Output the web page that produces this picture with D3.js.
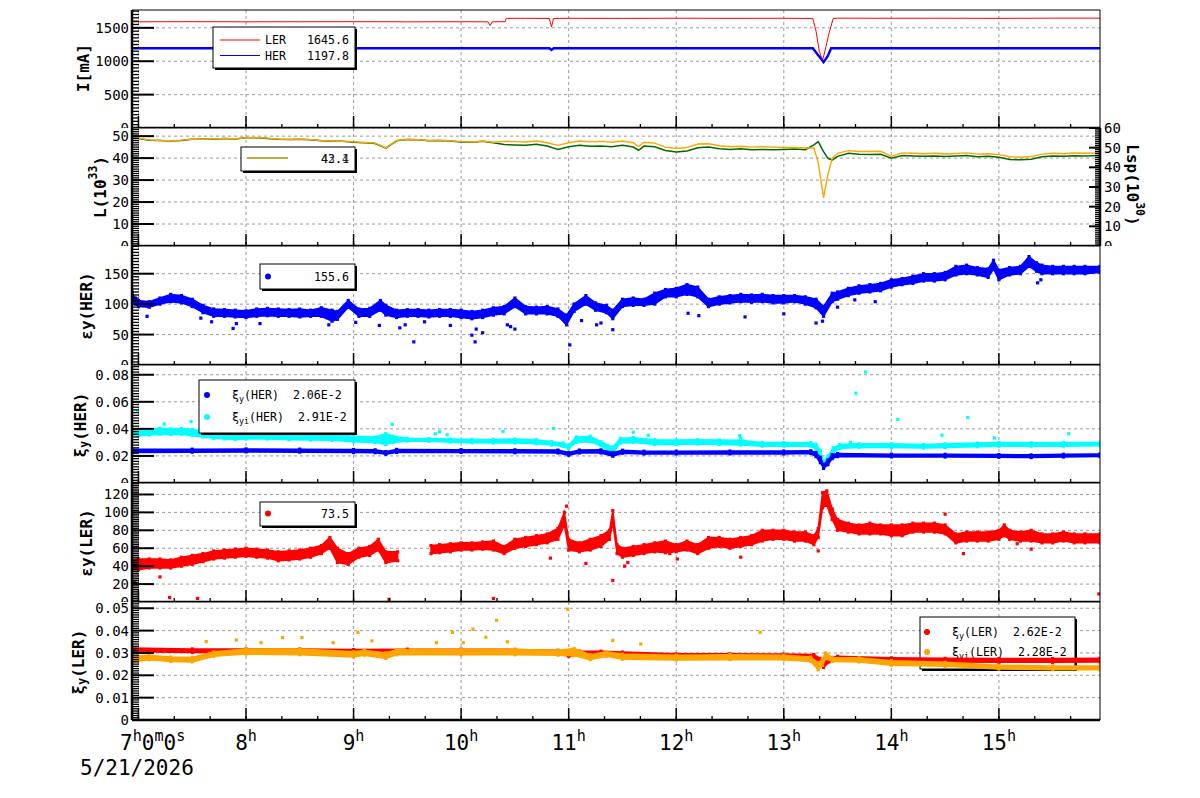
<!DOCTYPE html>
<html>
<head>
<meta charset="utf-8">
<script src="https://cdn.jsdelivr.net/npm/d3@7"></script>
<style>
  body { margin: 0; background: #fff; }
  text { font-family: "DejaVu Sans Mono", monospace; fill: #000; white-space: pre; }
</style>
</head>
<body>
<svg id="chart" width="1200" height="798"></svg>
<script>
// ---------------------------------------------------------------------------
// Data (time in hours of the day, 5/21/2026)
// ---------------------------------------------------------------------------

// Panel 1: beam currents [t, mA]
const currentLER = [
  [6.94,1590],[7.5,1592],[8.0,1590],[8.5,1591],[9.0,1592],[9.5,1590],[10.0,1591],
  [10.25,1590],[10.27,1535],[10.29,1590],[10.41,1592],[10.42,1642],[10.6,1643],
  [10.82,1640],[10.84,1515],[10.86,1640],[11.0,1643],[11.5,1641],[12.0,1644],
  [12.5,1642],[13.0,1643],[13.27,1640],[13.3,1450],[13.33,1150],[13.36,1010],
  [13.39,1200],[13.42,1420],[13.46,1640],[13.5,1645],[14.0,1643],[14.5,1644],
  [15.0,1642],[15.5,1645],[15.94,1645]
];
const currentHER = [
  [6.94,1195],[8.0,1195],[9.0,1195],[10.0,1195],[10.82,1195],[10.84,1170],[10.86,1195],
  [11.5,1195],[12.5,1195],[13.27,1195],[13.32,1090],[13.37,985],[13.41,1080],
  [13.44,1195],[14.0,1195],[15.0,1195],[15.94,1195]
];
const legendCurrent = [["LER", "1645.6", "#ff0000"], ["HER", "1197.8", "#0000ff"]];

// Panel 2: luminosity [t, L (left axis, 1e33), Lsp (right axis, 1e30)]
const lumRows = [
  [6.94,49.3,54.7],[7.0,49.0,54.7],[7.1,48.3,53.8],[7.2,48.0,53.6],[7.3,47.9,53.4],
  [7.4,48.2,53.6],[7.5,48.7,54.3],[7.6,48.6,54.4],[7.7,48.7,54.3],[7.8,49.0,54.6],
  [7.9,48.8,54.4],[8.0,49.3,55.0],[8.1,49.4,55.1],[8.2,49.1,54.7],[8.3,48.7,54.3],
  [8.4,48.5,54.1],[8.5,48.7,54.3],[8.6,48.4,54.0],[8.7,48.0,53.5],[8.8,47.8,53.3],
  [8.9,47.7,53.2],[9.0,47.4,52.8],[9.1,47.1,52.5],[9.2,46.8,52.1],[9.3,44.6,49.8],
  [9.4,48.0,53.5],[9.5,48.6,54.2],[9.6,48.4,54.0],[9.7,48.0,53.5],[9.8,48.2,53.7],
  [9.9,47.9,53.4],[10.0,47.5,52.9],[10.1,47.3,52.7],[10.2,47.8,53.2],[10.3,47.2,52.5],
  [10.4,47.6,51.6],[10.5,47.5,51.4],[10.6,47.3,51.2],[10.7,47.8,51.7],[10.8,47.0,50.8],
  [10.9,45.8,49.1],[11.0,47.0,50.5],[11.1,47.8,51.2],[11.2,47.4,50.7],[11.3,47.6,50.9],
  [11.4,47.2,50.5],[11.5,47.8,51.2],[11.6,47.0,50.3],[11.65,45.2,48.7],[11.7,47.2,50.8],
  [11.8,46.8,50.5],[11.9,45.0,48.6],[12.0,44.4,47.8],[12.1,44.8,48.3],[12.2,46.4,50.0],
  [12.3,46.5,50.3],[12.4,45.6,49.5],[12.5,45.2,49.1],[12.6,45.4,49.4],[12.7,45.0,48.9],
  [12.8,45.2,49.1],[12.9,45.0,49.0],[13.0,44.8,49.1],[13.1,44.9,49.3],[13.2,44.6,49.0],
  [13.28,44.6,51.4],[13.32,38.0,53.1],[13.37,21.9,48.0],[13.41,32.5,44.6],[13.45,39.9,43.7],
  [13.5,42.2,45.6],[13.6,43.4,47.1],[13.7,43.0,46.7],[13.8,43.0,46.5],[13.9,43.1,46.6],
  [14.0,40.8,44.6],[14.1,42.4,46.0],[14.2,42.2,45.8],[14.3,42.0,45.6],[14.4,42.2,45.8],
  [14.5,41.9,45.5],[14.6,42.1,45.7],[14.7,42.4,46.0],[14.8,41.8,45.4],[14.9,42.0,45.6],
  [15.0,41.6,45.1],[15.1,40.6,44.0],[15.2,40.4,43.8],[15.3,40.7,44.1],[15.4,41.8,45.4],
  [15.5,42.2,45.8],[15.6,42.0,45.6],[15.7,42.3,45.9],[15.8,42.2,45.8],[15.94,42.4,46.0]
];
const legendLum = ["43.4", "42.1"];

// Panel 3: vertical emittance HER, scatter band [t, low, high] + stray points [t, v]
const epsHER = [
  [6.94,108,120],[6.97,100,110],[7.0,96,106],[7.1,95,104],[7.2,100,110],[7.3,104,116],
  [7.4,102,114],[7.5,96,108],[7.6,86,98],[7.7,80,92],[7.8,80,91],[7.9,79,90],[8.0,78,89],
  [8.1,80,92],[8.2,81,93],[8.3,80,92],[8.4,80,91],[8.5,79,92],[8.6,80,90],[8.7,80,94],
  [8.8,72,90],[8.85,75,88],[8.95,95,106],[9.05,80,92],[9.15,80,93],[9.25,90,106],
  [9.3,82,98],[9.4,78,90],[9.5,80,91],[9.6,80,91],[9.7,79,90],[9.8,80,91],[9.9,80,91],
  [10.0,78,90],[10.1,76,88],[10.2,78,90],[10.3,82,94],[10.4,84,96],[10.5,96,110],
  [10.6,84,96],[10.7,84,95],[10.8,84,96],[10.9,80,92],[10.98,66,82],[11.05,88,100],
  [11.16,100,114],[11.25,90,102],[11.35,86,98],[11.41,76,90],[11.5,96,108],[11.6,98,110],
  [11.7,98,108],[11.8,100,118],[11.9,112,124],[12.0,112,126],[12.1,116,132],[12.2,112,128],
  [12.3,96,108],[12.4,100,112],[12.5,102,114],[12.6,104,116],[12.7,103,115],[12.8,104,116],
  [12.9,102,114],[13.0,102,114],[13.1,104,114],[13.2,100,112],[13.3,94,108],[13.37,80,96],
  [13.45,104,118],[13.5,108,120],[13.6,114,126],[13.7,118,130],[13.8,120,132],[13.9,122,134],
  [14.0,128,140],[14.1,132,142],[14.2,134,146],[14.3,138,150],[14.4,138,150],[14.5,140,152],
  [14.6,148,162],[14.7,150,164],[14.8,148,160],[14.9,144,158],[14.95,158,172],[15.0,140,156],
  [15.1,148,160],[15.2,150,162],[15.28,162,178],[15.35,154,168],[15.4,150,164],[15.5,150,162],
  [15.6,150,162],[15.7,150,162],[15.8,150,162],[15.94,152,162]
];
const epsHEROut = [
  [7.08,80],[7.58,77],[7.68,71],[7.88,60],[7.91,68],[8.13,68],[8.77,66],[9.02,70],[9.24,65],
  [9.43,61],[9.48,66],[9.56,38],[9.66,71],[9.9,65],[10.1,49],[10.13,38],[10.14,59],[10.2,53],
  [10.43,66],[10.46,63],[10.5,59],[11.01,33],[11.12,73],[11.26,66],[11.3,69],[11.41,58],
  [12.11,85],[12.21,81],[12.64,79],[13.0,84],[13.3,69],[13.36,72],[13.5,95],[13.66,107],
  [13.85,104],[15.36,135],[15.39,140]
];
const legendEpsHER = "155.6";

// Panel 4: beam-beam parameter HER [t, low, high]
const xiHER = [
  [6.94,0.0225,0.0250],[7.5,0.0228,0.0250],[8.0,0.0230,0.0252],[8.5,0.0228,0.0250],
  [9.0,0.0225,0.0247],[9.2,0.0224,0.0245],[9.3,0.0212,0.0232],[9.4,0.0226,0.0248],
  [10.0,0.0226,0.0246],[10.5,0.0224,0.0245],[10.9,0.0222,0.0243],[11.0,0.0205,0.0225],
  [11.1,0.0222,0.0243],[11.3,0.0222,0.0245],[11.41,0.0198,0.0225],[11.5,0.0220,0.0242],
  [11.7,0.0215,0.0235],[12.0,0.0215,0.0235],[12.5,0.0215,0.0236],[13.0,0.0215,0.0236],
  [13.25,0.0218,0.0238],[13.3,0.0195,0.0225],[13.34,0.0150,0.0190],[13.37,0.0108,0.0135],
  [13.41,0.0135,0.0170],[13.45,0.0180,0.0210],[13.5,0.0195,0.0218],[14.0,0.0193,0.0213],
  [14.5,0.0192,0.0212],[15.0,0.0190,0.0210],[15.3,0.0188,0.0208],[15.6,0.0192,0.0212],
  [15.94,0.0195,0.0215]
];
const xiiHER = [
  [6.94,0.0355,0.0405],[7.0,0.0350,0.0395],[7.1,0.0355,0.0395],[7.2,0.0360,0.0405],
  [7.3,0.0358,0.0400],[7.4,0.0360,0.0402],[7.5,0.0350,0.0395],[7.6,0.0340,0.0385],
  [7.7,0.0330,0.0372],[7.8,0.0325,0.0368],[7.9,0.0322,0.0365],[8.0,0.0325,0.0368],
  [8.2,0.0325,0.0365],[8.4,0.0320,0.0362],[8.6,0.0318,0.0360],[8.8,0.0315,0.0358],
  [9.0,0.0305,0.0345],[9.2,0.0300,0.0340],[9.3,0.0285,0.0365],[9.37,0.0300,0.0345],
  [9.5,0.0310,0.0330],[9.7,0.0308,0.0328],[9.9,0.0302,0.0325],[10.1,0.0298,0.0322],
  [10.3,0.0295,0.0322],[10.5,0.0295,0.0325],[10.7,0.0290,0.0320],[10.84,0.0280,0.0305],
  [10.95,0.0270,0.0295],[11.0,0.0255,0.0280],[11.07,0.0300,0.0340],[11.2,0.0305,0.0345],
  [11.3,0.0275,0.0305],[11.41,0.0220,0.0265],[11.48,0.0295,0.0330],[11.6,0.0300,0.0335],
  [11.8,0.0285,0.0320],[12.0,0.0285,0.0318],[12.2,0.0288,0.0320],[12.4,0.0285,0.0318],
  [12.6,0.0280,0.0315],[12.8,0.0272,0.0300],[13.0,0.0272,0.0300],[13.25,0.0272,0.0298],
  [13.3,0.0250,0.0285],[13.34,0.0190,0.0240],[13.37,0.0130,0.0160],[13.41,0.0160,0.0200],
  [13.46,0.0225,0.0260],[13.52,0.0255,0.0285],[13.7,0.0262,0.0290],[14.0,0.0262,0.0290],
  [14.3,0.0258,0.0285],[14.5,0.0262,0.0290],[14.8,0.0268,0.0295],[15.0,0.0272,0.0300],
  [15.3,0.0272,0.0298],[15.6,0.0272,0.0300],[15.94,0.0275,0.0300]
];
const xiiHEROut = [
  [6.99,0.0529],[7.24,0.0437],[7.49,0.0454],[8.43,0.0436],[8.52,0.0398],[8.76,0.0398],
  [8.99,0.0400],[9.36,0.0433],[9.76,0.0363],[9.80,0.0378],[9.87,0.0356],[10.39,0.0380],
  [10.86,0.0403],[11.60,0.0375],[11.74,0.0353],[12.59,0.0350],[12.60,0.0333],[13.62,0.0301],
  [13.67,0.0664],[13.76,0.0820],[14.06,0.0470],[14.47,0.0353],[14.71,0.0484],[14.96,0.0333],
  [15.65,0.0364]
];
const legendXiHER = [["ξ", "y", "(HER)  2.06E-2", "#0000ff"], ["ξ", "yi", "(HER)  2.91E-2", "#00ffff"]];

// Panel 5: vertical emittance LER [t, low, high] (null = no data)
const epsLER = [
  [6.94,36,46],[7.0,36,48],[7.1,38,48],[7.2,38,48],[7.3,38,47],[7.4,40,50],[7.5,42,52],
  [7.6,45,54],[7.7,48,57],[7.8,49,58],[7.9,50,59],[8.0,51,60],[8.1,50,59],[8.2,49,58],
  [8.3,46,56],[8.4,47,57],[8.5,48,58],[8.6,50,60],[8.7,54,63],[8.78,60,72],[8.85,44,60],
  [8.95,42,54],[9.05,50,60],[9.15,52,62],[9.23,58,70],[9.3,44,56],[9.41,46,56],
  [9.55,null,null],
  [9.72,54,63],[9.8,55,64],[9.9,56,65],[10.0,58,66],[10.1,58,66],[10.2,59,67],[10.3,58,68],
  [10.4,54,62],[10.5,60,70],[10.6,62,72],[10.7,64,74],[10.8,66,76],[10.9,70,82],
  [10.96,86,100],[11.0,58,70],[11.1,56,66],[11.2,58,70],[11.3,62,74],[11.38,70,80],
  [11.41,88,102],[11.45,54,64],[11.5,50,60],[11.6,52,62],[11.7,54,64],[11.8,56,66],
  [11.9,55,68],[12.0,56,64],[12.1,58,68],[12.2,54,64],[12.3,60,72],[12.4,62,72],[12.5,60,70],
  [12.6,62,72],[12.7,64,74],[12.8,68,80],[12.9,70,80],[13.0,70,80],[13.1,68,78],[13.2,68,78],
  [13.28,64,74],[13.32,72,82],[13.36,105,122],[13.4,108,124],[13.45,92,104],[13.5,80,92],
  [13.6,78,88],[13.7,76,86],[13.8,76,88],[13.9,76,86],[14.0,74,86],[14.1,74,86],[14.2,78,88],
  [14.3,78,88],[14.4,78,88],[14.5,76,86],[14.6,66,76],[14.7,68,78],[14.8,68,78],[14.9,68,78],
  [15.0,70,80],[15.05,74,86],[15.1,70,80],[15.2,68,78],[15.3,68,80],[15.4,66,76],[15.5,66,76],
  [15.6,68,78],[15.7,66,76],[15.8,66,76],[15.94,66,76]
];
const epsLEROut = [
  [6.96,22],[7.2,28],[7.29,5],[7.55,4],[9.33,3],[10.3,4],[10.83,49],[10.98,107],[11.16,43],
  [11.41,24],[11.52,40],[11.55,44],[11.94,54],[12.01,48],[12.6,50],[13.32,57],[14.5,98],
  [14.67,54],[15.17,65],[15.3,59],[15.93,9]
];
const legendEpsLER = "73.5";

// Panel 6: beam-beam parameter LER [t, low, high]
const xiLER = [
  [6.94,0.0305,0.0322],[7.5,0.0302,0.0318],[8.0,0.0302,0.0318],[8.5,0.0302,0.0318],
  [9.0,0.0300,0.0315],[9.5,0.0302,0.0317],[10.0,0.0302,0.0317],[10.5,0.0300,0.0316],
  [10.9,0.0298,0.0312],[11.0,0.0285,0.0305],[11.1,0.0290,0.0308],[11.3,0.0292,0.0308],
  [11.5,0.0288,0.0304],[12.0,0.0280,0.0296],[12.5,0.0280,0.0296],[13.0,0.0280,0.0295],
  [13.28,0.0278,0.0293],[13.34,0.0255,0.0275],[13.37,0.0235,0.0265],[13.42,0.0260,0.0278],
  [13.5,0.0270,0.0285],[14.0,0.0262,0.0278],[14.5,0.0260,0.0276],[15.0,0.0258,0.0275],
  [15.5,0.0258,0.0275],[15.94,0.0260,0.0276]
];
const xiiLER = [
  [6.94,0.0260,0.0285],[7.1,0.0270,0.0290],[7.3,0.0262,0.0282],[7.5,0.0260,0.0280],
  [7.7,0.0285,0.0305],[8.0,0.0295,0.0318],[8.5,0.0292,0.0318],[9.0,0.0282,0.0305],
  [9.1,0.0290,0.0312],[9.3,0.0275,0.0300],[9.4,0.0292,0.0315],[10.0,0.0292,0.0315],
  [10.5,0.0292,0.0315],[10.9,0.0290,0.0312],[11.05,0.0288,0.0320],[11.2,0.0270,0.0292],
  [11.35,0.0285,0.0305],[11.5,0.0272,0.0295],[12.0,0.0268,0.0290],[12.5,0.0270,0.0292],
  [13.0,0.0270,0.0290],[13.25,0.0262,0.0282],[13.32,0.0225,0.0255],[13.36,0.0245,0.0275],
  [13.39,0.0275,0.0300],[13.45,0.0262,0.0280],[13.7,0.0260,0.0278],[14.0,0.0245,0.0265],
  [14.5,0.0240,0.0258],[15.0,0.0228,0.0245],[15.5,0.0225,0.0242],[15.94,0.0225,0.0242]
];
const xiiLEROut = [
  [7.63,0.0351],[7.91,0.0358],[8.14,0.0346],[8.34,0.0369],[8.52,0.0369],[8.81,0.0346],
  [9.04,0.0392],[9.17,0.0354],[9.77,0.0346],[9.92,0.0392],[10.02,0.0346],[10.11,0.0407],
  [10.23,0.0370],[10.33,0.0446],[10.43,0.0350],[10.99,0.0496],[11.41,0.0356],[11.67,0.0340],
  [12.78,0.0392]
];
const legendXiLER = [["ξ", "y", "(LER)  2.62E-2", "#ff0000"], ["ξ", "yi", "(LER)  2.28E-2", "#ffa500"]];

// Axis setup
const HOURS = d3.range(7, 16);
const TIME_DOMAIN = [6.94, 15.94];
const PANELS = [
  { top: 10,  bottom: 128, domain: [0, 1767],   ticks: [0, 500, 1000, 1500],            sub: 50 },
  { top: 128, bottom: 246, domain: [0, 53.7],   ticks: [0, 10, 20, 30, 40, 50],         sub: 1 },
  { top: 246, bottom: 365, domain: [0, 195.5],  ticks: [0, 50, 100, 150],               sub: 5 },
  { top: 365, bottom: 483, domain: [0, 0.0872], ticks: [0, 0.02, 0.04, 0.06, 0.08],     sub: 0.002 },
  { top: 483, bottom: 602, domain: [0, 132.8],  ticks: [0, 20, 40, 60, 80, 100, 120],   sub: 2 },
  { top: 602, bottom: 720, domain: [0, 0.0528], ticks: [0, 0.01, 0.02, 0.03, 0.04, 0.05], sub: 0.001 },
];

// ---------------------------------------------------------------------------
const svg = d3.select("#chart");
const X0 = 132, X1 = 1100;
const x = d3.scaleLinear().domain(TIME_DOMAIN).range([X0, X1]);
const GRID = "#9a9a9a";

function rich(sel, parts, size) {
  let shift = 0;
  for (const [s, kind] of parts) {
    const target = kind === "sup" ? -0.42 * size : kind === "sub" ? 0.28 * size : 0;
    sel.append("tspan").attr("dy", target - shift)
      .attr("font-size", kind ? size * 0.72 : size).text(s);
    shift = target;
  }
}

function legendBox(g, x0, y0, x1, y1) {
  g.append("rect").attr("x", x0 + 2).attr("y", y0 + 2)
    .attr("width", x1 - x0).attr("height", y1 - y0).attr("fill", "#000");
  g.append("rect").attr("x", x0).attr("y", y0)
    .attr("width", x1 - x0).attr("height", y1 - y0)
    .attr("fill", "#fff").attr("stroke", "#000").attr("stroke-width", 1);
}

function drawPoints(g, pts, y, color) {
  g.append("g").selectAll("rect").data(pts).join("rect")
    .attr("x", (d) => x(d[0]) - 1.6).attr("y", (d) => y(d[1]) - 1.6)
    .attr("width", 3.2).attr("height", 3.2).attr("fill", color);
}

// dense scatter cloud drawn as a filled band between the low/high edges
function drawBand(g, rows, y, color) {
  const area = d3.area()
    .defined((d) => d[1] != null)
    .x((d) => x(d[0])).y0((d) => y(d[1])).y1((d) => y(d[2]));
  g.append("path").datum(rows).attr("d", area).attr("fill", color)
    .attr("stroke", color).attr("stroke-width", 1.5);
  const pts = rows.filter((d) => d[1] != null).flatMap((d) => [[d[0], d[1]], [d[0], d[2]]]);
  drawPoints(g, pts, y, color);
}

function drawLine(g, rows, y, col, color, width) {
  const line = d3.line().x((d) => x(d[0])).y((d) => y(d[col]));
  g.append("path").datum(rows).attr("d", line).attr("fill", "none")
    .attr("stroke", color).attr("stroke-width", width);
}

function yTitle(cx, cy, parts, rot) {
  const t = svg.append("text")
    .attr("transform", `translate(${cx},${cy}) rotate(${rot || -90})`)
    .attr("text-anchor", "middle").attr("dominant-baseline", "central")
    .attr("font-weight", "bold").attr("font-size", 16);
  rich(t, parts, 16);
}

function panel(i, draw) {
  const p = PANELS[i];
  const g = svg.append("g");
  g.append("rect").attr("x", 0).attr("y", p.top).attr("width", 1200)
    .attr("height", (i === PANELS.length - 1 ? 798 : p.bottom) - p.top).attr("fill", "#fff");
  const y = d3.scaleLinear().domain(p.domain).range([p.bottom, p.top]);

  // grid
  g.append("g").selectAll("line").data(HOURS).join("line")
    .attr("x1", (d) => x(d)).attr("x2", (d) => x(d))
    .attr("y1", p.top).attr("y2", p.bottom)
    .attr("stroke", GRID).attr("stroke-dasharray", "3,3");
  g.append("g").selectAll("line").data(p.ticks.filter((v) => v > 0)).join("line")
    .attr("x1", X0).attr("x2", X1).attr("y1", (d) => y(d)).attr("y2", (d) => y(d))
    .attr("stroke", GRID).attr("stroke-dasharray", "3,3");

  g.append("clipPath").attr("id", `clip${i}`).append("rect")
    .attr("x", X0).attr("y", p.top).attr("width", X1 - X0).attr("height", p.bottom - p.top);
  const plot = g.append("g").attr("clip-path", `url(#clip${i})`);
  draw(plot, y, g);

  // frame
  g.append("line").attr("x1", X0).attr("x2", X1).attr("y1", p.top).attr("y2", p.top)
    .attr("stroke", "#000").attr("stroke-width", 1);
  g.append("line").attr("x1", X1).attr("x2", X1).attr("y1", p.top).attr("y2", p.bottom)
    .attr("stroke", "#000").attr("stroke-width", 1);

  // bottom (time) axis
  const minorH = d3.range(7, TIME_DOMAIN[1], 1 / 3);
  g.append("g").selectAll("line").data(minorH).join("line")
    .attr("x1", (d) => x(d)).attr("x2", (d) => x(d))
    .attr("y1", p.bottom).attr("y2", p.bottom - 4).attr("stroke", "#000").attr("stroke-width", 1.3);
  g.append("g").selectAll("line").data(HOURS).join("line")
    .attr("x1", (d) => x(d)).attr("x2", (d) => x(d))
    .attr("y1", p.bottom).attr("y2", p.bottom - 12).attr("stroke", "#000").attr("stroke-width", 1.5);
  g.append("line").attr("x1", X0).attr("x2", X1).attr("y1", p.bottom).attr("y2", p.bottom)
    .attr("stroke", "#000").attr("stroke-width", 2.5);

  // left axis
  const minorY = d3.range(0, p.domain[1], p.sub);
  g.append("g").selectAll("line").data(minorY).join("line")
    .attr("x1", X0).attr("x2", X0 + 7).attr("y1", (d) => y(d)).attr("y2", (d) => y(d))
    .attr("stroke", "#000").attr("stroke-width", 1.3);
  g.append("g").selectAll("line").data(p.ticks).join("line")
    .attr("x1", X0).attr("x2", X0 + 22).attr("y1", (d) => y(d)).attr("y2", (d) => y(d))
    .attr("stroke", "#000").attr("stroke-width", 2);
  g.append("line").attr("x1", X0).attr("x2", X0).attr("y1", p.top).attr("y2", p.bottom)
    .attr("stroke", "#000").attr("stroke-width", 2.5);
  g.append("g").selectAll("text").data(p.ticks).join("text")
    .attr("x", X0 - 3).attr("y", (d) => y(d)).attr("text-anchor", "end")
    .attr("dominant-baseline", "central").attr("font-size", 14)
    .text((d) => (d === 0 ? "0" : p.domain[1] < 1 ? d.toFixed(2) : d));
}

// ---- Panel 1: currents ----
panel(0, (plot, y, g) => {
  drawLine(plot, currentLER, y, 1, "#ff0000", 1);
  drawLine(plot, currentHER, y, 1, "#0000ff", 2.4);
  legendBox(g, 213, 27, 355, 68);
  legendCurrent.forEach(([name, val, color], k) => {
    const yy = 40 + k * 15.5;
    g.append("line").attr("x1", 220).attr("x2", 260).attr("y1", yy).attr("y2", yy)
      .attr("stroke", color).attr("stroke-width", 1);
    g.append("text").attr("x", 265).attr("y", yy + 4).attr("font-size", 11.6).text(name);
    g.append("text").attr("x", 349).attr("y", yy + 4).attr("font-size", 11.6)
      .attr("text-anchor", "end").text(val);
  });
});
yTitle(83, 68, [["I[mA]"]]);

// ---- Panel 2: luminosity ----
panel(1, (plot, y, g) => {
  const yR = d3.scaleLinear().domain([0, 60]).range([PANELS[1].bottom, PANELS[1].top]);
  const lineSp = d3.line().x((d) => x(d[0])).y((d) => yR(d[2]));
  plot.append("path").datum(lumRows).attr("d", lineSp).attr("fill", "none")
    .attr("stroke", "#006a00").attr("stroke-width", 1.5);
  drawLine(plot, lumRows, y, 1, "#ffa500", 1.4);
  legendBox(g, 241, 147, 355, 171);
  g.append("line").attr("x1", 247).attr("x2", 288).attr("y1", 158).attr("y2", 158)
    .attr("stroke", "#006a00");
  g.append("line").attr("x1", 247).attr("x2", 288).attr("y1", 158).attr("y2", 158)
    .attr("stroke", "#ffa500");
  legendLum.forEach((v) => {
    g.append("text").attr("x", 349).attr("y", 162.5).attr("font-size", 11.6)
      .attr("text-anchor", "end").attr("fill-opacity", 0.8).text(v);
  });
  // right axis (Lsp)
  const rMinor = d3.range(0, 60, 1);
  const rMajor = d3.range(0, 61, 10);
  g.append("g").selectAll("line").data(rMinor).join("line")
    .attr("x1", X1).attr("x2", X1 - 5).attr("y1", (d) => yR(d)).attr("y2", (d) => yR(d))
    .attr("stroke", "#000").attr("stroke-width", 1.3);
  g.append("g").selectAll("line").data(rMajor).join("line")
    .attr("x1", X1).attr("x2", X1 - 11).attr("y1", (d) => yR(d)).attr("y2", (d) => yR(d))
    .attr("stroke", "#000").attr("stroke-width", 2);
  g.append("line").attr("x1", X1).attr("x2", X1).attr("y1", PANELS[1].top).attr("y2", PANELS[1].bottom)
    .attr("stroke", "#000").attr("stroke-width", 2.5);
  g.append("g").selectAll("text").data(rMajor).join("text")
    .attr("x", X1 + 4).attr("y", (d) => yR(d)).attr("dominant-baseline", "central")
    .attr("font-size", 14).text((d) => d);
});
yTitle(100, 187, [["L(10"], ["33", "sup"], [")"]]);
yTitle(1133, 185, [["Lsp(10"], ["30", "sup"], [")"]], 90);

// ---- Panel 3: emittance HER ----
panel(2, (plot, y, g) => {
  drawBand(plot, epsHER, y, "#0000ff");
  drawPoints(plot, epsHEROut, y, "#0000ff");
  legendBox(g, 260, 264, 355, 289);
  g.append("circle").attr("cx", 268).attr("cy", 276.5).attr("r", 3).attr("fill", "#0000ff");
  g.append("text").attr("x", 349).attr("y", 281).attr("font-size", 11.6)
    .attr("text-anchor", "end").text(legendEpsHER);
});
yTitle(86, 306, [["εy(HER)"]]);

// ---- Panel 4: xi HER ----
panel(3, (plot, y, g) => {
  drawBand(plot, xiiHER, y, "#00ffff");
  drawPoints(plot, xiiHEROut, y, "#00ffff");
  drawBand(plot, xiHER, y, "#0000ff");
  legendBox(g, 199, 380, 355, 433);
  legendXiHER.forEach(([a, s, b, color], k) => {
    const yy = 395 + k * 22;
    g.append("circle").attr("cx", 207).attr("cy", yy).attr("r", 3).attr("fill", color);
    const t = g.append("text").attr("x", 232).attr("y", yy + 4);
    rich(t, [[a], [s, "sub"], [b]], 11.6);
  });
});
yTitle(80, 425, [["ξ"], ["y", "sub"], ["(HER)"]]);

// ---- Panel 5: emittance LER ----
panel(4, (plot, y, g) => {
  drawBand(plot, epsLER, y, "#ff0000");
  drawPoints(plot, epsLEROut, y, "#ff0000");
  legendBox(g, 260, 502, 355, 526);
  g.append("circle").attr("cx", 268).attr("cy", 513.5).attr("r", 3).attr("fill", "#ff0000");
  g.append("text").attr("x", 349).attr("y", 518).attr("font-size", 11.6)
    .attr("text-anchor", "end").text(legendEpsLER);
});
yTitle(86, 543, [["εy(LER)"]]);

// ---- Panel 6: xi LER (legend sits under the data) ----
panel(5, (plot, y, g) => {
  legendBox(plot, 920, 617, 1075, 669);
  legendXiLER.forEach(([a, s, b, color], k) => {
    const yy = 632 + k * 20;
    plot.append("circle").attr("cx", 927).attr("cy", yy).attr("r", 3).attr("fill", color);
    const t = plot.append("text").attr("x", 952).attr("y", yy + 4);
    rich(t, [[a], [s, "sub"], [b]], 11.6);
  });
  drawBand(plot, xiLER, y, "#ff0000");
  drawBand(plot, xiiLER, y, "#ffa500");
  drawPoints(plot, xiiLEROut, y, "#ffa500");
});
yTitle(78, 662, [["ξ"], ["y", "sub"], ["(LER)"]]);

// ---- time labels ----
const tl = svg.append("text").attr("x", 120).attr("y", 750).attr("font-size", 21);
rich(tl, [["7"], ["h", "sup"], ["0"], ["m", "sup"], ["0"], ["s", "sup"]], 21);
svg.append("g").selectAll("text").data(HOURS.slice(1)).join("text")
  .attr("x", (d) => x(d)).attr("y", 750).attr("text-anchor", "middle").attr("font-size", 21)
  .each(function (d) { rich(d3.select(this), [[String(d)], ["h", "sup"]], 21); });
svg.append("text").attr("x", 80).attr("y", 775).attr("font-size", 21).text("5/21/2026");
</script>
</body>
</html>
